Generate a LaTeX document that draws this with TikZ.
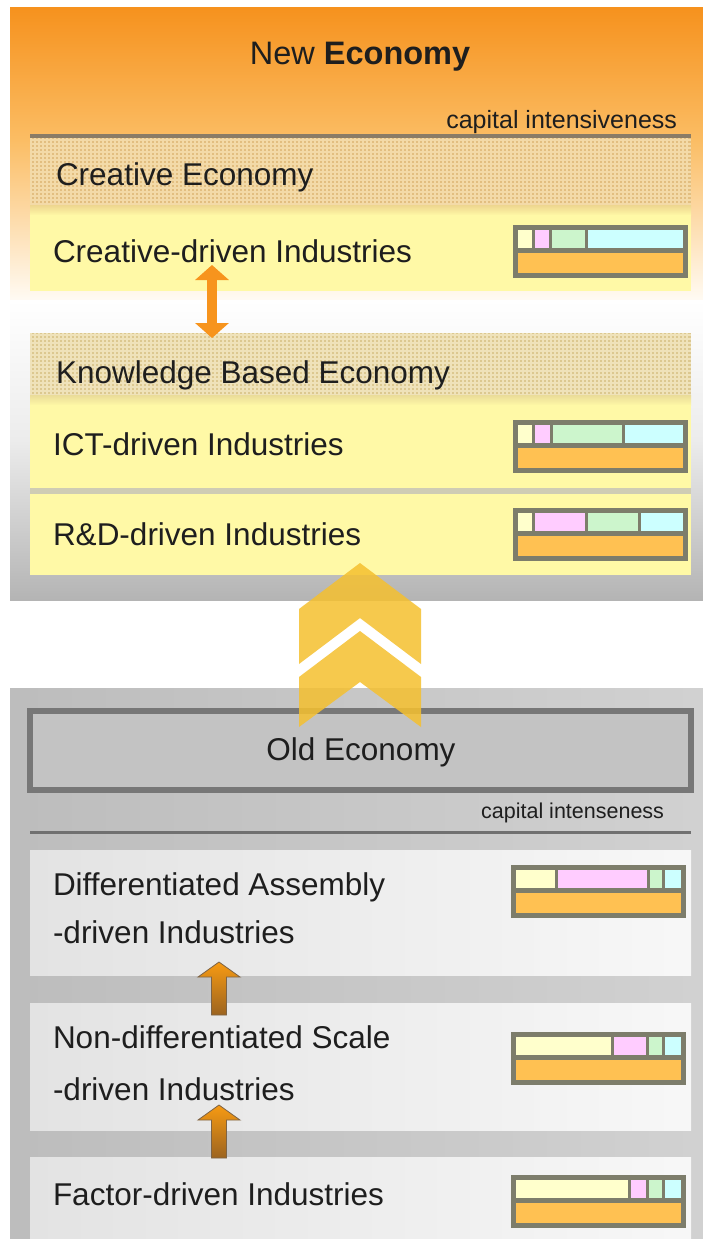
\documentclass[tikz,border=0pt]{standalone}
\usepackage{fontspec}
\setmainfont{Liberation Sans}
\usetikzlibrary{arrows.meta}
\definecolor{orTop}{HTML}{F6921E}
\definecolor{orMid}{HTML}{FBBD64}
\definecolor{paleTop}{HTML}{FFFBF4}
\definecolor{grayMid}{HTML}{ECECEC}
\definecolor{grayBot}{HTML}{B4B4B4}
\definecolor{bandYellow}{HTML}{FFF9A6}
\definecolor{chkBaseA}{HTML}{E2BE80}
\definecolor{chkLineA}{HTML}{F3DAA8}
\definecolor{chkBaseB}{HTML}{DCC890}
\definecolor{chkLineB}{HTML}{EFE2BA}
\definecolor{sepGray}{HTML}{CFCCB4}
\definecolor{lineBrown}{HTML}{8A7C66}
\definecolor{lineGray}{HTML}{707070}
\definecolor{frameGray}{HTML}{7D7D6B}
\definecolor{segY}{HTML}{FFFFCC}
\definecolor{segP}{HTML}{FFCCFF}
\definecolor{segG}{HTML}{CCF5CC}
\definecolor{segC}{HTML}{CCFFFF}
\definecolor{segO}{HTML}{FFC152}
\definecolor{arrOrange}{HTML}{F7941D}
\definecolor{arrTop}{HTML}{F79A12}
\definecolor{arrBot}{HTML}{9C6420}
\definecolor{arrEdge}{HTML}{7E6446}
\definecolor{chevYellow}{HTML}{F5C02F}
\definecolor{oldFill}{HTML}{C3C3C3}
\definecolor{oldEdge}{HTML}{777777}
\definecolor{txtDark}{HTML}{1E1E1E}
\tikzset{
  txt/.style={inner sep=0pt, outer sep=0pt, anchor=base west, text=txtDark,
    font=\fontsize{31.5}{36}\selectfont},
  captxt/.style={inner sep=0pt, outer sep=0pt, anchor=base east, text=txtDark},
  bandbox/.style={anchor=north west, inner sep=0pt, outer sep=0pt, draw=none,
    minimum width=661pt},
  barbox/.style={anchor=north west, inner sep=0pt, outer sep=0pt, draw=none,
    fill=frameGray, minimum width=175pt, minimum height=53pt},
  chkA/.style={chkLineA, line width=1.2pt},
  chkB/.style={chkLineB, line width=1.2pt},
  smallarrow/.style={top color=arrTop, bottom color=arrBot, draw=arrEdge, line width=0.8pt},
  chevron/.style={fill=chevYellow, fill opacity=0.85}
}
\newcommand\segbar[6]{%
  \node[barbox] (#1) at (#2,#3) {};
  \fill[segY] (#2+5,#3+5) rectangle (#4,#3+23);
  \fill[segP] (#4+3,#3+5) rectangle (#5,#3+23);
  \fill[segG] (#5+3,#3+5) rectangle (#6,#3+23);
  \fill[segC] (#6+3,#3+5) rectangle (#2+170,#3+23);
  \fill[segO] (#2+5,#3+28) rectangle (#2+170,#3+48);
}
\begin{document}
\begin{tikzpicture}[x=1pt,y=-1pt]
\useasboundingbox (0,0) rectangle (703,1239);
\fill[white] (0,0) rectangle (703,1239);

% ---------- top panel background ----------
\shade[top color=orTop, bottom color=orMid] (10,8) rectangle (703,140.5);
\shade[top color=orMid, bottom color=paleTop] (10,140) rectangle (703,300.5);
\shade[top color=white, bottom color=grayMid] (10,300) rectangle (703,440.5);
\shade[top color=grayMid, bottom color=grayBot] (10,440) rectangle (703,600);

\node[font=\fontsize{32.5}{38}\selectfont, text=txtDark, inner sep=0pt, anchor=base]
  (newEco) at (360,65) {New \textbf{Economy}};
\node[captxt, font=\fontsize{25}{30}\selectfont] (capNew) at (677,128) {capital intensiveness};
\draw[lineBrown, line width=4pt] (30,136) -- (691,136);

% Creative Economy (checkered)
\node[bandbox, fill=chkBaseA, minimum height=77pt] (creativeEco) at (30,138) {};
\foreach \x in {31,35,...,690} \draw[chkA] (\x,138) -- (\x,215);
\foreach \y in {140,144,...,212} \draw[chkA] (30,\y) -- (691,\y);
\shade[top color=chkBaseA!60!bandYellow, bottom color=bandYellow] (30,205) rectangle (691,215.5);
\node[txt] (creativeEcoT) at (56,185) {Creative Economy};

% Creative-driven Industries
\node[bandbox, fill=bandYellow, minimum height=76pt] (creativeInd) at (30,215) {};
\node[txt] (creativeIndT) at (53,262) {Creative-driven Industries};
\segbar{barCreative}{513}{225}{532}{549}{585}

% Knowledge Based Economy (checkered)
\node[bandbox, fill=chkBaseB, minimum height=72pt] (knowEco) at (30,333) {};
\foreach \x in {31,35,...,690} \draw[chkB] (\x,333) -- (\x,405);
\foreach \y in {335,339,...,399} \draw[chkB] (30,\y) -- (691,\y);
\shade[top color=chkBaseB!60!bandYellow, bottom color=bandYellow] (30,395) rectangle (691,405.5);
\node[txt] (knowEcoT) at (56,383) {Knowledge Based Economy};

% ICT-driven Industries
\node[bandbox, fill=bandYellow, minimum height=84pt] (ictInd) at (30,405) {};
\node[txt] (ictIndT) at (53,455) {ICT-driven Industries};
\segbar{barICT}{513}{420}{532}{550}{622}
\fill[sepGray] (30,488) rectangle (691,494);

% R&D-driven Industries
\node[bandbox, fill=bandYellow, minimum height=81pt] (rdInd) at (30,494) {};
\node[txt] (rdIndT) at (53,545) {R\&D-driven Industries};
\segbar{barRD}{513}{508}{532}{585}{638}

% double arrow between creative and knowledge
\coordinate (dblTop) at (212,265);
\coordinate (dblBot) at (212,338);
\draw[arrOrange, line width=10pt,
  {Triangle[width=33pt,length=15pt]}-{Triangle[width=33pt,length=15pt]}] (dblTop) -- (dblBot);

% ---------- old panel background ----------
\shade[left color=black!26, middle color=black!2, right color=black!18] (10,688) rectangle (703,1239);

\node[anchor=north west, inner sep=0pt, outer sep=0pt, fill=oldFill, draw=oldEdge,
  line width=6pt, minimum width=661pt, minimum height=79pt] (oldEco) at (30,711) {};
\node[font=\fontsize{31.5}{36}\selectfont, text=txtDark, inner sep=0pt, anchor=base]
  (oldEcoT) at (361,760) {Old Economy};
\node[captxt, font=\fontsize{21.5}{26}\selectfont] (capOld) at (664,818) {capital intenseness};
\draw[lineGray, line width=3pt] (30,832) -- (691,832);

% Differentiated Assembly
\node[bandbox, left color=black!11, right color=black!3, minimum height=125pt] (diffInd) at (30,850) {};
\node[txt] (diffIndT1) at (53,895) {Differentiated Assembly};
\node[txt] (diffIndT2) at (53,943) {-driven Industries};
\segbar{barDiff}{511}{865}{555}{647}{662}

% Non-differentiated Scale
\node[bandbox, left color=black!11, right color=black!3, minimum height=127pt] (nondiffInd) at (30,1003) {};
\node[txt] (nondiffIndT1) at (53,1048) {Non-differentiated Scale};
\node[txt] (nondiffIndT2) at (53,1100) {-driven Industries};
\segbar{barNondiff}{511}{1032}{611}{646}{662}

% Factor-driven
\node[bandbox, left color=black!11, right color=black!3, minimum height=82pt] (factorInd) at (30,1157) {};
\node[txt] (factorIndT) at (53,1205) {Factor-driven Industries};
\segbar{barFactor}{511}{1175}{628}{646}{662}

% small arrows
\coordinate (upA) at (219,962);
\coordinate (upB) at (219,1105);
\shade[smallarrow, shift={(upA)}] (0,0) -- (21,15) -- (7.5,15) -- (7.5,53) -- (-7.5,53) -- (-7.5,15) -- (-21,15) -- cycle;
\shade[smallarrow, shift={(upB)}] (0,0) -- (21,15) -- (7.5,15) -- (7.5,53) -- (-7.5,53) -- (-7.5,15) -- (-21,15) -- cycle;

% big chevron arrow
\coordinate (chevTip) at (360,563);
\fill[chevron] (360,563) -- (421,609) -- (421,664) -- (360,618) -- (299,664) -- (299,609) -- cycle;
\fill[chevron] (360,631) -- (421,677) -- (421,727) -- (360,682) -- (299,727) -- (299,677) -- cycle;
\end{tikzpicture}
\end{document}
